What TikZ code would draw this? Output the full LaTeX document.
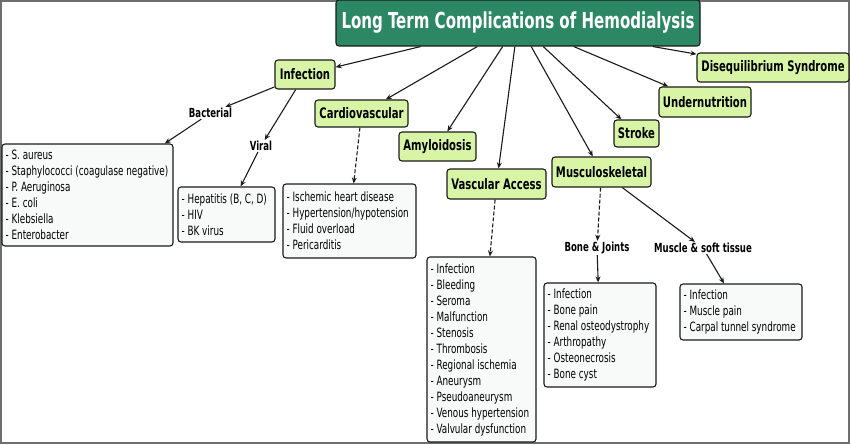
\documentclass[tikz,border=0pt]{standalone}
\usepackage{fontspec}
\setmainfont{DejaVu Sans Condensed}[FakeStretch=0.83,BoldFont={DejaVu Sans Condensed Bold}]
\newfontfamily\listfont{DejaVu Sans Condensed}[FakeStretch=0.765]
\newfontfamily\titlefont{DejaVu Sans Condensed Bold}[FakeStretch=0.76]
\newfontfamily\conceptfont{DejaVu Sans Condensed Bold}[FakeStretch=0.77]
\newfontfamily\linkfont{DejaVu Sans Condensed Bold}[FakeStretch=0.76]
\usetikzlibrary{arrows.meta}
\definecolor{titlegreen}{HTML}{2C8864}
\definecolor{conceptgreen}{HTML}{D8F5A6}
\definecolor{listfill}{HTML}{F7FAF8}
\definecolor{framegray}{HTML}{6E6E6E}
\definecolor{edgeblack}{HTML}{1A1A1A}
\begin{document}
\begin{tikzpicture}[x=1pt,y=-1pt,
  titlebox/.style={draw=edgeblack,line width=1.1pt,fill=titlegreen,rounded corners=3pt,inner sep=0pt,text=white,font=\titlefont\fontsize{22}{26}\selectfont},
  concept/.style={draw=edgeblack,line width=1.1pt,fill=conceptgreen,rounded corners=3pt,inner sep=0pt,font=\conceptfont\fontsize{14.5}{17}\selectfont},
  linkphrase/.style={inner sep=1pt,font=\linkfont\fontsize{12.5}{15}\selectfont},
  listbox/.style={draw=edgeblack,line width=1.1pt,fill=listfill,rounded corners=3pt,inner sep=0pt},
  listtext/.style={anchor=west,xshift=4pt,align=left,inner sep=0pt,font=\listfont\fontsize{12.8}{16}\selectfont},
  arr/.style={draw=edgeblack,line width=1.1pt,-{Stealth[length=6pt,width=5pt]}},
  dasharr/.style={arr,dash pattern=on 4pt off 2pt}
]
\useasboundingbox (0,0) rectangle (850,444);
\draw[framegray,line width=1.6pt] (0.8,0.8) rectangle (849.2,443.2);

% main concepts
\node[titlebox,minimum width=364pt,minimum height=46pt] (title) at (518,23) {Long Term Complications of Hemodialysis};
\node[concept,minimum width=60pt,minimum height=29pt] (infection) at (305,74.5) {Infection};
\node[concept,minimum width=93pt,minimum height=27pt] (cardio) at (361.5,113.5) {Cardiovascular};
\node[concept,minimum width=77pt,minimum height=29pt] (amyloid) at (437.5,146.5) {Amyloidosis};
\node[concept,minimum width=99pt,minimum height=30pt] (vascular) at (496.5,184) {Vascular Access};
\node[concept,minimum width=99pt,minimum height=30pt] (musculo) at (601.5,172) {Musculoskeletal};
\node[concept,minimum width=45pt,minimum height=27pt] (stroke) at (636.5,133.5) {Stroke};
\node[concept,minimum width=92pt,minimum height=30pt] (undernut) at (705,102) {Undernutrition};
\node[concept,minimum width=152pt,minimum height=29pt] (diseq) at (773,67.5) {Disequilibrium Syndrome};

% linking phrases
\node[linkphrase] (bacterial) at (210.5,113) {Bacterial};
\node[linkphrase] (viral) at (261,146) {Viral};
\node[linkphrase] (bone) at (597,248) {Bone \& Joints};
\node[linkphrase] (muscle) at (703,248) {Muscle \& soft tissue};

% list boxes
\node[listbox,minimum width=171pt,minimum height=102pt] (bactlist) at (87.5,195) {};
\node[listbox,minimum width=97pt,minimum height=55pt] (virallist) at (226.5,214.5) {};
\node[listbox,minimum width=133pt,minimum height=74pt] (cardiolist) at (349.5,221) {};
\node[listbox,minimum width=109pt,minimum height=185pt] (vasclist) at (481.5,349.5) {};
\node[listbox,minimum width=112pt,minimum height=104pt] (bonelist) at (600,335) {};
\node[listbox,minimum width=122pt,minimum height=56pt] (musclelist) at (741,312) {};

% list texts
\node[listtext] (bacttext) at (bactlist.west) {- S. aureus\\- Staphylococci (coagulase negative)\\- P. Aeruginosa\\- E. coli\\- Klebsiella\\- Enterobacter};
\node[listtext] (viraltext) at (virallist.west) {- Hepatitis (B, C, D)\\- HIV\\- BK virus};
\node[listtext] (cardiotext) at (cardiolist.west) {- Ischemic heart disease\\- Hypertension/hypotension\\- Fluid overload\\- Pericarditis};
\node[listtext] (vasctext) at (vasclist.west) {- Infection\\- Bleeding\\- Seroma\\- Malfunction\\- Stenosis\\- Thrombosis\\- Regional ischemia\\- Aneurysm\\- Pseudoaneurysm\\- Venous hypertension\\- Valvular dysfunction};
\node[listtext] (bonetext) at (bonelist.west) {- Infection\\- Bone pain\\- Renal osteodystrophy\\- Arthropathy\\- Osteonecrosis\\- Bone cyst};
\node[listtext] (muscletext) at (musclelist.west) {- Infection\\- Muscle pain\\- Carpal tunnel syndrome};

% connectors
\draw[arr] (title) -- (infection);
\draw[arr] (title) -- (cardio);
\draw[arr] (title) -- (amyloid);
\draw[arr] (title) -- (vascular);
\draw[arr] (title) -- (musculo);
\draw[arr] (title) -- (stroke);
\draw[arr] (title) -- (undernut);
\draw[arr] (title) -- (diseq);
\draw[arr] (infection) -- (bacterial);
\draw[arr] (bacterial) -- (bactlist);
\draw[arr] (infection) -- (viral);
\draw[arr] (viral) -- (virallist);
\draw[dasharr] (cardio) -- (cardiolist);
\draw[dasharr] (vascular) -- (vasclist);
\draw[dasharr] (musculo) -- (bone);
\draw[arr] (bone) -- (bonelist);
\draw[arr] (musculo) -- (muscle);
\draw[arr] (muscle) -- (musclelist);
\end{tikzpicture}
\end{document}
